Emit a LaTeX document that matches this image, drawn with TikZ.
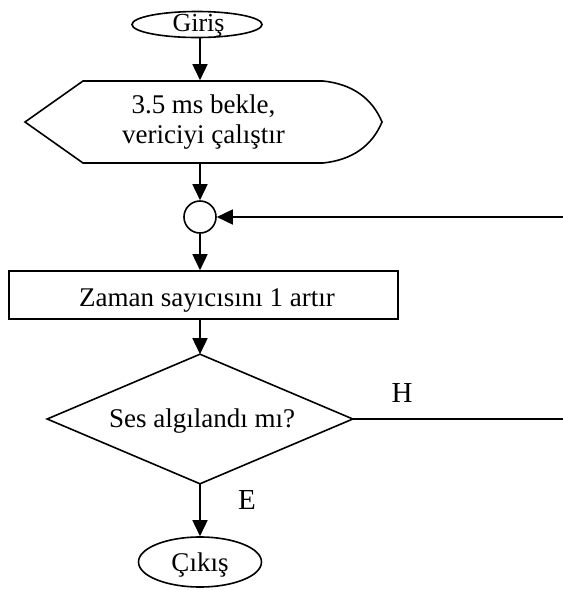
\documentclass[tikz,border=0pt]{standalone}
\usepackage{fontspec}
\setmainfont{Liberation Serif}
\usetikzlibrary{shapes.geometric,arrows.meta}
\begin{document}
\begin{tikzpicture}[x=1pt,y=1pt,
  line width=1.6pt,
  txt/.style={font=\fontsize{27}{30}\selectfont, align=center, inner sep=0pt},
  lbl/.style={font=\fontsize{29}{32}\selectfont, inner sep=0pt, anchor=base},
  arr/.style={-{Triangle[length=16pt,width=15pt]}},
  term/.style={draw, ellipse, inner sep=0pt},
  area/.style={rectangle, inner sep=0pt},
  joint/.style={draw, circle, inner sep=0pt, minimum size=32pt}]
\useasboundingbox (0,0) rectangle (563,-590);

% start terminal
\node[term, minimum width=130pt, minimum height=26pt] (g) at (197,-24.5) {};
\node[txt, font=\fontsize{26}{29}\selectfont, anchor=base] (gt) at (198.5,-31) {Giriş};

% preparation (display-like) box
\node[txt, minimum width=357pt, minimum height=82pt] (h) at (203.5,-122)
  {3.5 ms bekle,\\vericiyi çalıştır};
\draw (25,-122) -- (83,-81) -- (323,-81)
  .. controls (352,-84) and (372,-98) .. (382,-122)
  .. controls (372,-146) and (352,-160) .. (323,-163)
  -- (83,-163) -- cycle;

% connector circle
\node[joint] (c) at (200,-217) {};

% counter box
\node[area, draw, minimum width=389pt, minimum height=48pt] (r) at (203.5,-295) {};
\node[txt, anchor=base] (rt) at (207,-306) {Zaman sayıcısını 1 artır};

% decision
\node[area, minimum width=304pt, minimum height=128pt] (d) at (200,-419) {};
\draw (d.north) -- (d.east) -- (d.south) -- (d.west) -- cycle;
\node[txt, anchor=base] (dt) at (202,-427) {Ses algılandı mı?};

% end terminal
\node[term, minimum width=123pt, minimum height=50pt] (e) at (200,-562) {};
\node[txt, anchor=base] (et) at (200,-571) {Çıkış};

% branch labels
\node[lbl] (hl) at (402,-402) {H};
\node[lbl] (el) at (247,-509) {E};

% loop ends at the right margin
\coordinate (lr) at (563,-217);
\coordinate (hr) at (563,-420);

% main flow
\draw[arr] (g.south -| c) -- (h.north -| c);
\draw[arr] (h.south -| c) -- (c.north);
\draw[arr] (c.south) -- (c.south |- r.north);
\draw[arr] (r.south -| d) -- (d.north);
\draw[arr] (d.south) -- (e.north);

% loop back
\draw (d.east) -- (d.east -| hr);
\draw[arr] (lr) -- (c.east);
\end{tikzpicture}
\end{document}
